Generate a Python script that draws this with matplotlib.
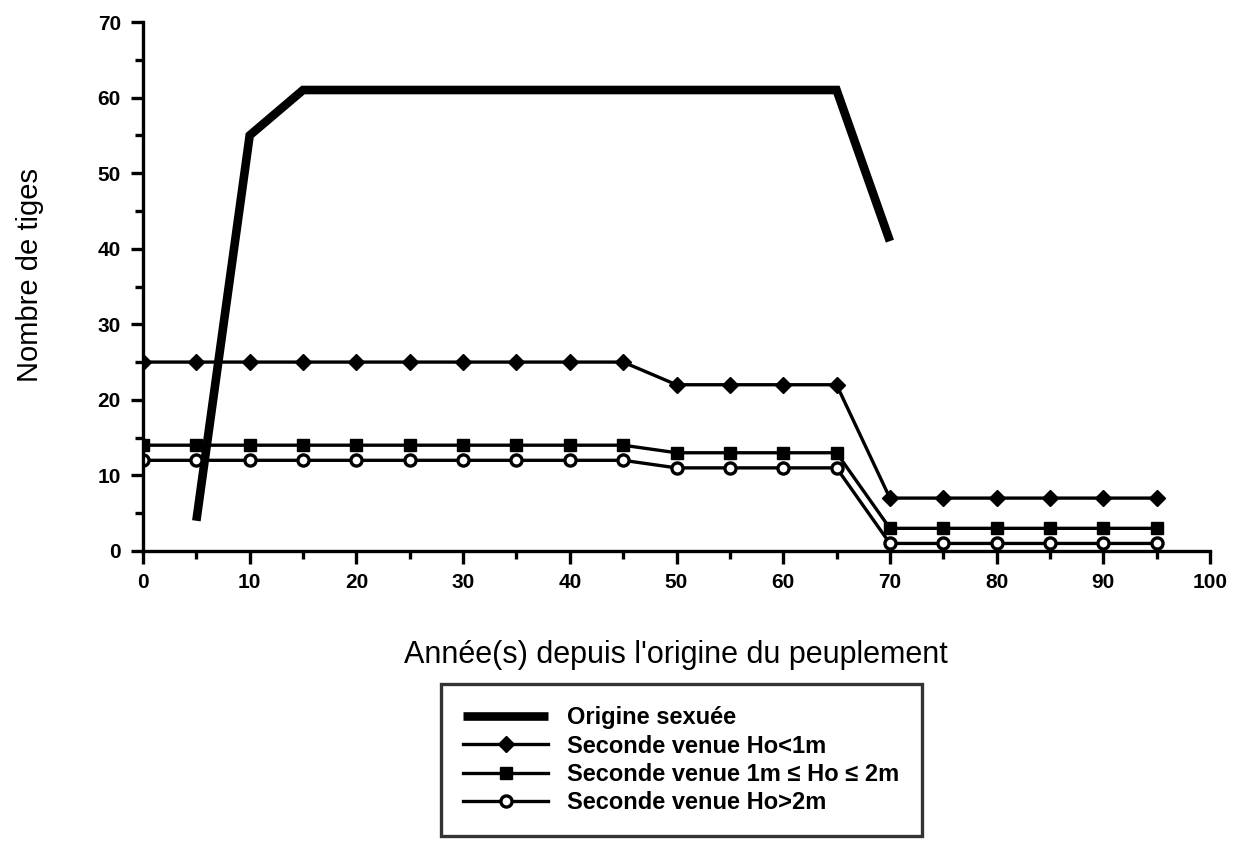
import matplotlib
matplotlib.use("Agg")
import matplotlib.pyplot as plt
from matplotlib.ticker import MultipleLocator

plt.rcParams['font.family'] = ['Liberation Sans', 'DejaVu Sans']

x_sex = [5, 10, 15, 20, 25, 30, 35, 40, 45, 50, 55, 60, 65, 70]
y_sex = [4, 55, 61, 61, 61, 61, 61, 61, 61, 61, 61, 61, 61, 41]

x_sv = [0, 5, 10, 15, 20, 25, 30, 35, 40, 45, 50, 55, 60, 65, 70, 75, 80, 85, 90, 95]
y_lt1 = [25, 25, 25, 25, 25, 25, 25, 25, 25, 25, 22, 22, 22, 22, 7, 7, 7, 7, 7, 7]
y_1to2 = [14, 14, 14, 14, 14, 14, 14, 14, 14, 14, 13, 13, 13, 13, 3, 3, 3, 3, 3, 3]
y_gt2 = [12, 12, 12, 12, 12, 12, 12, 12, 12, 12, 11, 11, 11, 11, 1, 1, 1, 1, 1, 1]

labels = ["Origine sexuée", "Seconde venue Ho<1m",
          "Seconde venue 1m \u2264 Ho \u2264 2m", "Seconde venue Ho>2m"]

fig = plt.figure(figsize=(12.38, 8.48), dpi=100)
W, H = 1238, 848
ax = fig.add_axes([143 / W, 1 - 551 / H, (1210 - 143) / W, (551 - 22) / H])

ax.plot(x_sex, y_sex, color='black', lw=6.2, solid_joinstyle='miter',
        solid_capstyle='butt', label=labels[0])
ax.plot(x_sv, y_lt1, color='black', lw=2.4, marker='D', ms=8, label=labels[1])
ax.plot(x_sv, y_1to2, color='black', lw=2.4, marker='s', ms=9, label=labels[2])
ax.plot(x_sv, y_gt2, color='black', lw=2.4, marker='o', ms=8,
        markerfacecolor='white', markeredgewidth=2.4, label=labels[3])

ax.set_xlim(0, 100)
ax.set_ylim(0, 70)
ax.xaxis.set_major_locator(MultipleLocator(10))
ax.xaxis.set_minor_locator(MultipleLocator(5))
ax.yaxis.set_major_locator(MultipleLocator(10))
ax.yaxis.set_minor_locator(MultipleLocator(5))
for s in ['top', 'right']:
    ax.spines[s].set_visible(False)
for s in ['left', 'bottom']:
    ax.spines[s].set_linewidth(2.4)
ax.tick_params(which='major', length=9, width=2.4, labelsize=15)
ax.tick_params(axis='x', which='major', pad=7)
ax.tick_params(axis='y', which='major', pad=7)
ax.tick_params(which='minor', length=6, width=2.4)
for lab in ax.get_xticklabels() + ax.get_yticklabels():
    lab.set_fontweight('bold')

fig.text(30 / W, 1 - 275 / H, "Nombre de tiges", rotation=90, fontsize=21,
         ha='center', va='center')
fig.text(676 / W, 1 - 655 / H, "Année(s) depuis l'origine du peuplement", fontsize=22,
         ha='center', va='center')

leg = fig.legend(loc='upper left', bbox_to_anchor=(441 / W, 1 - 684 / H),
                 frameon=True, fancybox=False, fontsize=17, handlelength=3.6,
                 borderpad=0.95, labelspacing=0.22, handletextpad=0.8,
                 borderaxespad=0)
leg.get_frame().set_edgecolor('black')
leg.get_frame().set_linewidth(2.4)
for t in leg.get_texts():
    t.set_fontweight('bold')

fig.savefig("out.png", dpi=100)
